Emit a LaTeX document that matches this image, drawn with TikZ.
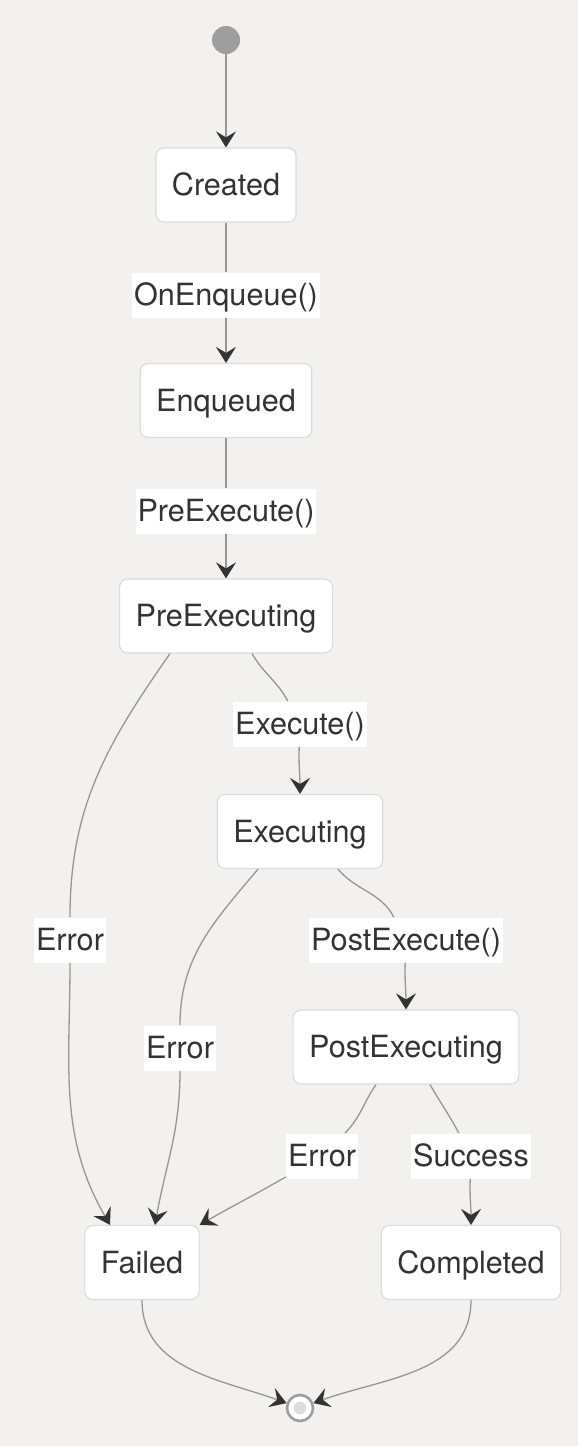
\documentclass[tikz,border=0pt]{standalone}
\usepackage{fontspec}
\setmainfont{TeX Gyre Heros}
\usepackage{tikz}
\definecolor{bgGray}{RGB}{242,241,240}
\definecolor{lineGray}{RGB}{150,150,150}
\definecolor{boxGray}{RGB}{220,220,220}
\definecolor{tipDark}{RGB}{51,51,51}
\definecolor{textDark}{RGB}{51,51,51}
\definecolor{dotGray}{RGB}{158,158,158}
\definecolor{innerGray}{RGB}{221,221,221}
\usetikzlibrary{arrows.meta, positioning}

\begin{document}
\begin{tikzpicture}[
    x=1pt, y=1pt,
    node distance=107.75pt,
    stbox/.style={rectangle, rounded corners=4pt, draw=boxGray, line width=0.6pt, fill=white, text=textDark, inner xsep=8pt, minimum height=37pt, text height=10.8pt, text depth=0pt, font=\fontsize{15.3}{18}\selectfont},
    lbl/.style={fill=white, text=textDark, inner xsep=1pt, inner ysep=0pt, minimum height=22.5pt, text height=10.8pt, text depth=0pt, font=\fontsize{15.3}{18}\selectfont},
    flow/.style={lineGray, line width=0.65pt, -{Stealth[length=8pt, width=10pt, inset=3pt, color=tipDark]}}
]
    \fill[bgGray] (0,0) rectangle (289,-723);

    \node[circle, fill=dotGray, minimum size=14pt, inner sep=0pt] (start) at (113,-20) {};
    \node[stbox] (created) at (113,-92.5) {Created};
    \node[stbox, below of=created] (enqueued) {Enqueued};
    \node[stbox, below of=enqueued] (preexec) {PreExecuting};
    \node[stbox, below of=preexec, xshift=37pt] (executing) {Executing};
    \node[stbox, below of=executing, xshift=53pt] (postexec) {PostExecuting};
    \node[stbox, below of=postexec, xshift=-132pt] (failed) {Failed};
    \node[stbox, below of=postexec, xshift=32.5pt] (completed) {Completed};
    \node[circle, draw=dotGray, line width=1.3pt, fill=white, minimum size=13pt, inner sep=0pt,
        path picture={\fill[innerGray] (path picture bounding box.center) circle (3.2pt);}] (end) at (150,-704) {};

    % transition labels
    \node[lbl] (onenq) at (113,-147.5) {OnEnqueue()};
    \node[lbl] (prelbl) at (113,-255.5) {PreExecute()};
    \node[lbl] (execlbl) at (150,-362) {Execute()};
    \node[lbl] (errpre) at (35,-470) {Error};
    \node[lbl] (postlbl) at (203,-470) {PostExecute()};
    \node[lbl] (errexec) at (90,-524) {Error};
    \node[lbl] (errpost) at (161,-578) {Error};
    \node[lbl] (success) at (235.5,-578) {Success};

    \draw[flow] (start) -- (created);
    \draw[flow] (created) -- (onenq) -- (enqueued);
    \draw[flow] (enqueued) -- (prelbl) -- (preexec);
    \draw[flow] ([xshift=13pt]preexec.south) to[out=-60, in=118] (execlbl) to[out=-92, in=90] (executing);
    \draw[flow] ([xshift=-28pt]preexec.south) to[out=-125, in=90] (errpre) to[out=-90, in=120] ([xshift=-16pt]failed.north);
    \draw[flow] ([xshift=-21pt]executing.south) to[out=-130, in=90] (errexec) to[out=-90, in=80] ([xshift=6.5pt]failed.north);
    \draw[flow] ([xshift=19pt]executing.south) to[out=-50, in=118] (postlbl) to[out=-92, in=90] (postexec);
    \draw[flow] ([xshift=-15pt]postexec.south) to[out=-125, in=45] (errpost) to[out=-150, in=30] (failed.north east);
    \draw[flow] ([xshift=12pt]postexec.south) to[out=-60, in=118] (success) to[out=-92, in=90] (completed);
    \draw[flow] (failed.south) to[out=-90, in=160] (end);
    \draw[flow] (completed.south) to[out=-90, in=20] (end);
\end{tikzpicture}
\end{document}
